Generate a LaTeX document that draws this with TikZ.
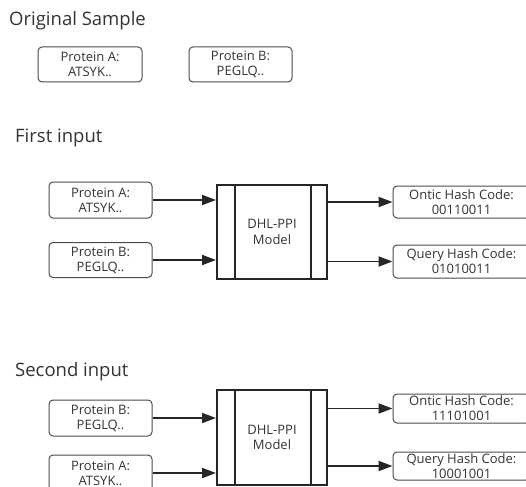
\documentclass[tikz,border=0pt]{standalone}
\usepackage{fontspec}
\setmainfont{Open Sans}
\usetikzlibrary{arrows.meta}

\begin{document}
\begin{tikzpicture}[x=1pt, y=-1pt,
    heading/.style={anchor=base west, inner sep=0pt, text=black!80,
      font=\fontsize{18.5}{22}\selectfont},
    seqbox/.style={draw=black!70, line width=1pt, rounded corners=4pt,
      align=center, inner sep=0pt, text=black!80, minimum width=103pt,
      font=\fontsize{13}{15}\selectfont},
    modelbox/.style={draw=black!85, line width=2pt, align=center,
      inner sep=0pt, minimum width=110pt, text=black!80,
      font=\fontsize{13}{15.5}\selectfont},
    feed/.style={draw=black!85, line width=1.8pt,
      -{Triangle[length=14pt, width=10pt]}}]

    \useasboundingbox (0, 0) rectangle (526, 486);
    \clip (0, 0) rectangle (526, 486);

    % draw headings
    \node[heading] (hOrig) at (9, 26) {Original Sample};
    \node[heading] (hFirst) at (15, 143) {First input};
    \node[heading] (hSecond) at (15, 376) {Second input};

    % draw original sample
    \node[seqbox, minimum width=104pt, minimum height=35pt] (oa) at (90, 64.5) {Protein A:\\ATSYK..};
    \node[seqbox, minimum height=35pt] (ob) at (240.5, 64.5) {Protein B:\\PEGLQ..};

    % draw first input
    \node[seqbox, minimum height=36pt] (fa) at (100.5, 200) {Protein A:\\ATSYK..};
    \node[seqbox, minimum height=35pt] (fb) at (100.5, 260) {Protein B:\\PEGLQ..};
    \node[modelbox, minimum height=94pt] (dhlA) at (272, 232) {DHL-PPI\\Model};
    \draw[draw=black!85, line width=2pt] ([xshift=19pt]dhlA.north west) -- ([xshift=19pt]dhlA.south west);
    \draw[draw=black!85, line width=2pt] ([xshift=-17pt]dhlA.north east) -- ([xshift=-17pt]dhlA.south east);
    \node[seqbox, minimum width=137pt, minimum height=32pt] (onA) at (461.5, 202) {Ontic Hash Code:\\00110011};
    \node[seqbox, minimum width=137pt, minimum height=33pt] (quA) at (461.5, 261.5) {Query Hash Code:\\01010011};

    \draw[feed] (fa) -- (fa -| dhlA.west);
    \draw[feed] (fb) -- (fb -| dhlA.west);
    \draw[feed] (dhlA.east |- onA) -- (onA);
    \draw[feed] (dhlA.east |- quA) -- (quA);

    % draw second input
    \node[seqbox, minimum height=36pt] (sb) at (100.5, 418) {Protein B:\\PEGLQ..};
    \node[seqbox, minimum height=36pt] (sa) at (100.5, 473) {Protein A:\\ATSYK..};
    \node[modelbox, minimum height=95pt] (dhlB) at (272, 437.5) {DHL-PPI\\Model};
    \draw[draw=black!85, line width=2pt] ([xshift=19pt]dhlB.north west) -- ([xshift=19pt]dhlB.south west);
    \draw[draw=black!85, line width=2pt] ([xshift=-17pt]dhlB.north east) -- ([xshift=-17pt]dhlB.south east);
    \node[seqbox, minimum width=137pt, minimum height=29pt] (onB) at (461.5, 408.5) {Ontic Hash Code:\\11101001};
    \node[seqbox, minimum width=137pt, minimum height=28pt] (quB) at (461.5, 466) {Query Hash Code:\\10001001};

    \draw[feed] (sb) -- (sb -| dhlB.west);
    \draw[feed] (sa) -- (sa -| dhlB.west);
    \draw[feed] (dhlB.east |- onB) -- (onB);
    \draw[feed] (dhlB.east |- quB) -- (quB);

\end{tikzpicture}
\end{document}
